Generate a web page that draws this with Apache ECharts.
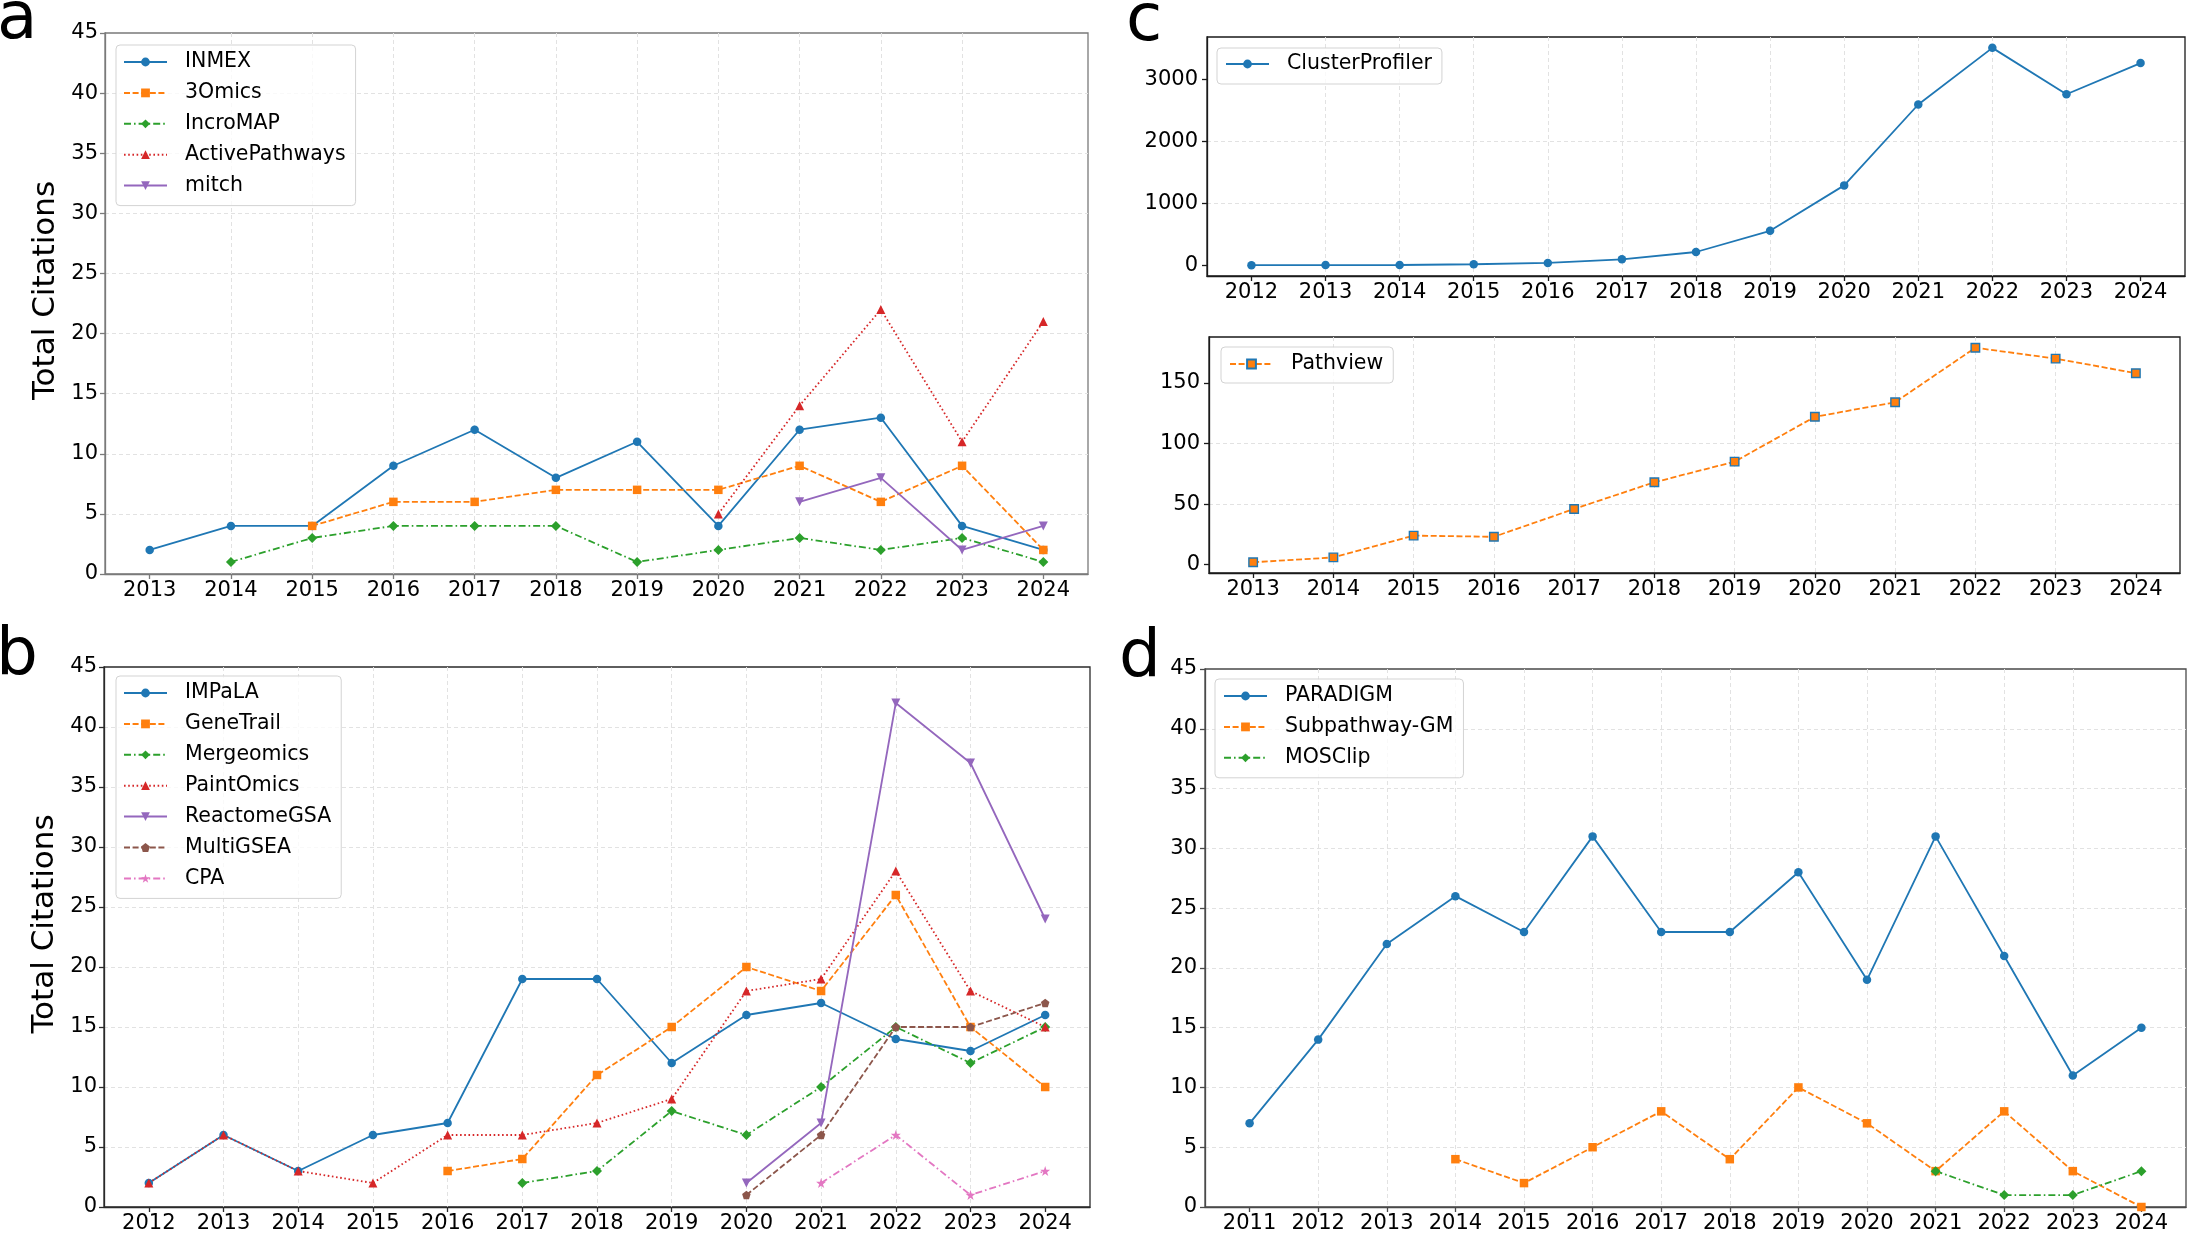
<!DOCTYPE html>
<html><head><meta charset="utf-8">
<script src="https://cdn.jsdelivr.net/npm/echarts@6/dist/echarts.min.js"></script>
<style>html,body{margin:0;padding:0;background:#fff}#c{width:2188px;height:1234px}</style>
</head><body><div id="c"></div>
<script>
// ---------- data ----------
const yearsA = [2013,2014,2015,2016,2017,2018,2019,2020,2021,2022,2023,2024];
const inmex          = [2,4,4,9,12,8,11,4,12,13,4,2];
const omics3         = [null,null,4,6,6,7,7,7,9,6,9,2];
const incroMAP       = [null,1,3,4,4,4,1,2,3,2,3,1];
const activePathways = [null,null,null,null,null,null,null,5,14,22,11,21];
const mitch          = [null,null,null,null,null,null,null,null,6,8,2,4];

const yearsB = [2012,2013,2014,2015,2016,2017,2018,2019,2020,2021,2022,2023,2024];
const impala      = [2,6,3,6,7,19,19,12,16,17,14,13,16];
const geneTrail   = [null,null,null,null,3,4,11,15,20,18,26,15,10];
const mergeomics  = [null,null,null,null,null,2,3,8,6,10,15,12,15];
const paintOmics  = [2,6,3,2,6,6,7,9,18,19,28,18,15];
const reactomeGSA = [null,null,null,null,null,null,null,null,2,7,42,37,24];
const multiGSEA   = [null,null,null,null,null,null,null,null,1,6,15,15,17];
const cpa         = [null,null,null,null,null,null,null,null,null,2,6,1,3];

const yearsC1 = [2012,2013,2014,2015,2016,2017,2018,2019,2020,2021,2022,2023,2024];
const clusterProfiler = [2,3,4,16,37,96,214,556,1289,2594,3508,2759,3262];
const yearsC2 = [2013,2014,2015,2016,2017,2018,2019,2020,2021,2022,2023,2024];
const pathview = [2,6,24,23,46,68,85,122,134,179,170,158];

const yearsD = [2011,2012,2013,2014,2015,2016,2017,2018,2019,2020,2021,2022,2023,2024];
const paradigm     = [7,14,22,26,23,31,23,23,28,19,31,21,11,15];
const subpathwayGM = [null,null,null,4,2,5,8,4,10,7,3,8,3,0];
const mosClip      = [null,null,null,null,null,null,null,null,null,null,3,1,1,3];

const ticks45 = [0,5,10,15,20,25,30,35,40,45];
const ticksC1 = [0,1000,2000,3000];
const ticksC2 = [0,50,100,150];
const panelLetters = ['a','b','c','d'];
const yTitle = 'Total Citations';

// ---------- styles ----------
const FONT = '"DejaVu Sans", sans-serif';
const C = {blue:'#1f77b4', orange:'#ff7f0e', green:'#2ca02c', red:'#d62728', purple:'#9467bd', brown:'#8c564b', pink:'#e377c2'};
const DASH = {solid:'solid', dashed:[6,2.6], dashdot:[7,3,1.6,3], dotted:[1.6,2.6]};
const SYM = {
  o:'circle', s:'rect', D:'diamond', '^':'triangle',
  v:'path://M0,0 L10,0 L5,10 Z',
  p:'path://M5,0 L10,3.8 L8.1,10 L1.9,10 L0,3.8 Z',
  '*':'path://M5,0 L6.2,3.6 L10,3.6 L6.9,5.9 L8.1,9.5 L5,7.3 L1.9,9.5 L3.1,5.9 L0,3.6 L3.8,3.6 Z'
};
const SYMSIZE = {o:8.5, s:8.5, D:10, '^':9, v:9, p:8.5, '*':10};

function pairs(years, vals){
  const out = [];
  years.forEach((y,i)=>{ if (vals[i] !== null && vals[i] !== undefined) out.push([y, vals[i]]); });
  return out;
}

const grids = [
  {left:105, top:33,  right:1100, bottom:660},
  {left:104, top:667, right:1098, bottom:25},
  {left:1207, top:37, right:3,   bottom:958},
  {left:1209, top:337, right:8,  bottom:661},
  {left:1205, top:669, right:2,  bottom:25}
];
const spine = ['#7a7a7a','#2a2a2a','#1a1a1a','#1a1a1a','#4a4a4a'];

const gridOpts = grids.map((g,i)=>Object.assign({show:true, borderColor:spine[i], borderWidth:1.3, backgroundColor:'transparent', containLabel:false}, g));

const splitLine = {show:true, showMinLine:false, showMaxLine:false, lineStyle:{color:'#e2e2e2', type:[4,3], width:1}};

function xAxis(gi, years){
  const m = (years[years.length-1]-years[0])*0.05;
  return {
    type:'value', gridIndex:gi, min:years[0]-m, max:years[years.length-1]+m,
    axisLine:{show:true, onZero:false, lineStyle:{color:spine[gi], width:1.3}},
    axisTick:{show:true, length:5, lineStyle:{color:spine[gi], width:1.3}, customValues:years},
    axisLabel:{customValues:years, formatter:v=>String(v), margin:6, fontSize:21, color:'#000', fontFamily:FONT},
    splitLine:splitLine
  };
}
function yAxis(gi, ticks, min, max, withName, margin){
  const ax = {
    type:'value', gridIndex:gi, min:min, max:max,
    axisLine:{show:true, onZero:false, lineStyle:{color:spine[gi], width:1.3}},
    axisTick:{show:true, length:5, lineStyle:{color:spine[gi], width:1.3}, customValues:ticks},
    axisLabel:{customValues:ticks, formatter:v=>String(v), margin:margin, fontSize:21, color:'#000', fontFamily:FONT},
    splitLine:splitLine
  };
  if (withName){
    ax.name = yTitle; ax.nameLocation = 'middle'; ax.nameGap = 44;
    ax.nameTextStyle = {fontSize:31, color:'#000', fontFamily:FONT, padding:[0,0,0,26]};
  }
  return ax;
}

function s(gi, name, years, vals, color, dash, marker, extra){
  const o = {
    type:'line', name:name, xAxisIndex:gi, yAxisIndex:gi,
    data:pairs(years, vals), symbol:SYM[marker], symbolSize:SYMSIZE[marker],
    showSymbol:true, animation:false, clip:false,
    lineStyle:{color:color, width:1.8, type:DASH[dash]},
    itemStyle:{color:color}
  };
  return Object.assign(o, extra||{});
}

const series = [
  s(0,'INMEX',yearsA,inmex,C.blue,'solid','o'),
  s(0,'3Omics',yearsA,omics3,C.orange,'dashed','s'),
  s(0,'IncroMAP',yearsA,incroMAP,C.green,'dashdot','D'),
  s(0,'ActivePathways',yearsA,activePathways,C.red,'dotted','^'),
  s(0,'mitch',yearsA,mitch,C.purple,'solid','v'),

  s(1,'IMPaLA',yearsB,impala,C.blue,'solid','o'),
  s(1,'GeneTrail',yearsB,geneTrail,C.orange,'dashed','s'),
  s(1,'Mergeomics',yearsB,mergeomics,C.green,'dashdot','D'),
  s(1,'PaintOmics',yearsB,paintOmics,C.red,'dotted','^'),
  s(1,'ReactomeGSA',yearsB,reactomeGSA,C.purple,'solid','v'),
  s(1,'MultiGSEA',yearsB,multiGSEA,C.brown,'dashed','p'),
  s(1,'CPA',yearsB,cpa,C.pink,'dashdot','*'),

  s(2,'ClusterProfiler',yearsC1,clusterProfiler,C.blue,'solid','o'),
  s(3,'Pathview',yearsC2,pathview,C.orange,'dashed','s',{itemStyle:{color:C.orange, borderColor:C.blue, borderWidth:1.4}}),

  s(4,'PARADIGM',yearsD,paradigm,C.blue,'solid','o'),
  s(4,'Subpathway-GM',yearsD,subpathwayGM,C.orange,'dashed','s'),
  s(4,'MOSClip',yearsD,mosClip,C.green,'dashdot','D')
];

function legend(names, left, top, pad){
  return {
    data:names, orient:'vertical', left:left, top:top, selectedMode:false,
    itemWidth:43, itemHeight:11, itemGap:8.9, padding:pad,
    backgroundColor:'rgba(255,255,255,0.8)', borderColor:'#d3d3d3', borderWidth:1, borderRadius:4,
    textStyle:{fontSize:20.5, color:'#000', fontFamily:FONT, lineHeight:22, padding:[0,0,0,13]}
  };
}

const legends = [
  legend(['INMEX','3Omics','IncroMAP','ActivePathways','mitch'], 116, 45, [6,10,9,7]),
  legend(['IMPaLA','GeneTrail','Mergeomics','PaintOmics','ReactomeGSA','MultiGSEA','CPA'], 116, 676, [6,10,9,7]),
  legend(['ClusterProfiler'], 1217, 48, [5,10,9,8]),
  legend(['Pathview'], 1221, 347, [6,10,8,8]),
  legend(['PARADIGM','Subpathway-GM','MOSClip'], 1215, 679, [6,10,9,8])
];

const letterPos = [[-3,18],[-4,654],[1126,20],[1119,656]];
const graphics = panelLetters.map((t,i)=>({
  type:'text', left:letterPos[i][0], top:letterPos[i][1]-30,
  style:{text:t, font:'66px "DejaVu Sans"', fill:'#000'}
}));

const chart = echarts.init(document.getElementById('c'));
chart.setOption({
  backgroundColor:'#fff',
  animation:false,
  grid:gridOpts,
  xAxis:[xAxis(0,yearsA), xAxis(1,yearsB), xAxis(2,yearsC1), xAxis(3,yearsC2), xAxis(4,yearsD)],
  yAxis:[
    yAxis(0,ticks45,0,45,true,7),
    yAxis(1,ticks45,0,45,true,7),
    yAxis(2,ticksC1,-173.3,3683.3,false,9),
    yAxis(3,ticksC2,-6.85,187.85,false,9),
    yAxis(4,ticks45,0,45,false,8)
  ],
  legend:legends,
  series:series,
  graphic:graphics
});
</script></body></html>
